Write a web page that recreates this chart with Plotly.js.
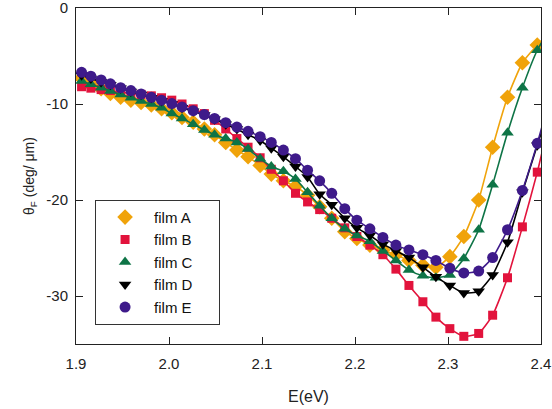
<!DOCTYPE html>
<html>
<head>
<meta charset="utf-8">
<script src="https://cdn.plot.ly/plotly-3.0.1.min.js"></script>
<style>html,body{margin:0;padding:0;background:#fff;}#chart{width:552px;height:409px;}</style>
</head>
<body>
<div id="chart"></div>
<script>
// Photon energy (eV) of each measured point
var energy = [1.906, 1.916, 1.927, 1.937, 1.948, 1.959, 1.970, 1.981, 1.992, 2.003,
              2.014, 2.026, 2.038, 2.049, 2.061, 2.073, 2.085, 2.098, 2.110, 2.123,
              2.136, 2.149, 2.162, 2.175, 2.189, 2.202, 2.216, 2.230, 2.244, 2.258,
              2.273, 2.287, 2.302, 2.317, 2.333, 2.348, 2.364, 2.380, 2.396, 2.412];

var filmA = [-7.3, -7.9, -8.4, -8.9, -9.3, -9.6, -9.85, -10.1, -10.5, -10.9,
             -11.4, -11.9, -12.6, -13.2, -14.0, -14.8, -15.5, -16.4, -17.3, -18.0,
             -18.6, -19.5, -20.7, -21.9, -23.3, -24.0, -24.7, -25.2, -25.7, -26.3,
             -26.8, -27.0, -25.9, -23.8, -20.0, -14.5, -9.3, -5.7, -3.85, -2.3];

var filmB = [-8.2, -8.35, -8.5, -8.6, -8.75, -8.9, -9.0, -9.15, -9.35, -9.6,
             -10.0, -10.5, -11.0, -11.7, -12.6, -13.6, -14.5, -15.6, -16.8, -18.0,
             -19.3, -20.2, -21.0, -21.9, -22.9, -23.8, -24.7, -25.7, -27.2, -28.9,
             -30.6, -32.2, -33.4, -34.2, -33.9, -32.0, -28.1, -22.8, -17.1, -10.5];

var filmC = [-7.6, -7.95, -8.3, -8.65, -9.0, -9.35, -9.7, -10.0, -10.4, -11.0,
             -11.5, -12.1, -12.7, -13.2, -13.6, -14.0, -14.7, -15.7, -16.5, -17.0,
             -17.8, -19.2, -20.6, -21.9, -23.0, -23.7, -24.3, -25.3, -26.3, -27.3,
             -27.9, -28.1, -27.8, -26.1, -23.1, -18.4, -13.0, -8.3, -4.4, -1.8];

var filmD = [-7.0, -7.35, -7.7, -8.0, -8.35, -8.7, -9.0, -9.35, -9.7, -10.0,
             -10.4, -10.75, -11.15, -11.6, -12.1, -12.6, -13.2, -13.8, -14.6, -15.5,
             -16.5, -17.6, -19.4, -20.5, -21.9, -22.9, -23.7, -24.6, -25.3, -26.0,
             -27.0, -28.0, -28.9, -29.7, -29.5, -27.8, -24.4, -19.2, -14.3, -9.5];

var filmE = [-6.7, -7.1, -7.5, -7.9, -8.3, -8.6, -8.95, -9.3, -9.6, -9.95,
             -10.3, -10.7, -11.1, -11.5, -11.95, -12.4, -12.85, -13.4, -14.0, -14.8,
             -15.7, -16.9, -18.0, -19.3, -20.9, -22.1, -23.0, -23.9, -24.7, -25.2,
             -25.7, -26.3, -27.1, -27.6, -27.4, -26.0, -23.1, -19.0, -14.1, -8.5];

var seriesNames = ['film A', 'film B', 'film C', 'film D', 'film E'];
var xTickVals = [1.9, 2.0, 2.1, 2.2, 2.3, 2.4];
var xTickText = ['1.9', '2.0', '2.1', '2.2', '2.3', '2.4'];
var yTickVals = [0, -10, -20, -30];
var yTickText = ['0', '-10', '-20', '-30'];

var seriesValues = [filmA, filmB, filmC, filmD, filmE];
var colors = ['#F0A30A', '#E2133C', '#0E7446', '#000000', '#3E1A8A'];
var symbols = ['diamond', 'square', 'triangle-up', 'triangle-down', 'circle'];
var sizes = [12, 9, 11, 11, 11];
var pad = '\u00a0\u00a0\u00a0\u00a0\u00a0';

var traces = [];
seriesValues.forEach(function (vals, i) {
  traces.push({
    x: energy, y: vals, name: seriesNames[i], legendgroup: 'g' + i,
    type: 'scatter', mode: 'lines', showlegend: false,
    line: {color: colors[i], width: 1.6, shape: 'spline', smoothing: 0.5},
    hoverinfo: 'skip'
  });
  traces.push({
    x: energy, y: vals, name: seriesNames[i] + pad, legendgroup: 'g' + i,
    type: 'scatter', mode: 'markers',
    marker: {color: colors[i], symbol: symbols[i], size: sizes[i], line: {width: 0}}
  });
});

var axisCommon = {
  showgrid: false, zeroline: false, showline: true, linecolor: '#222', linewidth: 1,
  mirror: 'ticks', ticks: 'inside', ticklen: 7, tickcolor: '#222', tickwidth: 1,
  ticklabeloverflow: 'allow',
  tickfont: {family: 'Liberation Sans, Arial, sans-serif', size: 15, color: '#222'}
};

var layout = {
  width: 552, height: 409,
  margin: {l: 76, r: 11, t: 8, b: 65},
  paper_bgcolor: '#fff', plot_bgcolor: '#fff',
  font: {family: 'Liberation Sans, Arial, sans-serif', color: '#222'},
  showlegend: true,
  xaxis: Object.assign({}, axisCommon, {
    range: [1.9, 2.4], tickvals: xTickVals, ticktext: xTickText,
    ticklabelstandoff: 6,
    title: {text: 'E(eV)', font: {size: 16, color: '#222'}, standoff: 19}
  }),
  yaxis: Object.assign({}, axisCommon, {
    range: [-35, 0], tickvals: yTickVals, ticktext: yTickText,
    ticklabelstandoff: 4,
    title: {text: 'θ<sub>F</sub> (deg/ μm)', font: {size: 14, color: '#222'}, standoff: 8}
  }),
  legend: {
    x: 0.041, y: 0.429, xanchor: 'left', yanchor: 'top',
    bgcolor: '#fff', bordercolor: '#333', borderwidth: 1,
    font: {size: 15, color: '#111'}, itemwidth: 48, tracegroupgap: 0
  }
};

Plotly.newPlot('chart', traces, layout, {staticPlot: true, displayModeBar: false});
</script>
</body>
</html>
